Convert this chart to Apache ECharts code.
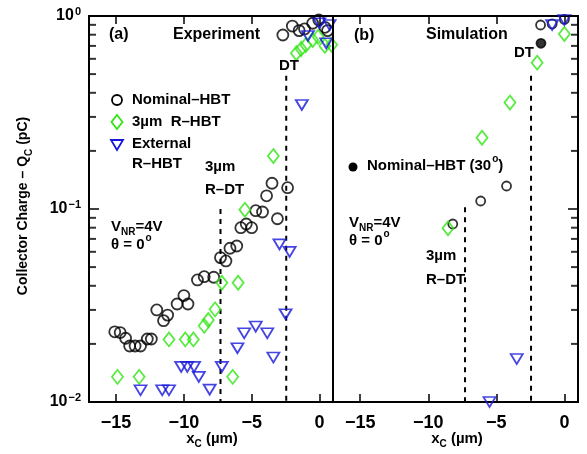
<!DOCTYPE html>
<html>
<head>
<meta charset="utf-8">
<script src="https://cdn.jsdelivr.net/npm/echarts@6/dist/echarts.min.js"></script>
</head>
<body style="margin:0">
<div id="chart" style="width:587px;height:454px"></div>
<script>
// axis ranges / ticks
const xMin = -17, xMax = 1;
const xTicks = [-15, -10, -5, 0];
const yMin = 0.01, yMax = 1;
const minorTickValues = [0.02, 0.03, 0.04, 0.05, 0.06, 0.07, 0.08, 0.09,
  0.2, 0.3, 0.4, 0.5, 0.6, 0.7, 0.8, 0.9];

// (a) Experiment
const expNominalX = [-15.1, -14.7, -14.3, -14.0, -13.6, -13.2, -12.7, -12.4, -12.0, -11.5, -11.2,
  -10.5, -10.0, -9.7, -9.0, -8.5, -7.8, -7.3, -6.9, -6.6, -6.1, -5.8, -5.4, -5.0, -4.7, -4.2,
  -3.9, -3.5, -3.1, -2.35, -2.7, -2.0, -1.5, -1.1, -0.5, -0.05, 0.4, 0.6];
const expNominalQ = [0.0231, 0.0229, 0.0214, 0.0195, 0.0195, 0.0195, 0.0212, 0.0212, 0.030, 0.0264, 0.0282,
  0.0322, 0.0356, 0.0322, 0.0429, 0.0446, 0.0443, 0.056, 0.0538, 0.0626, 0.0643, 0.080, 0.0836, 0.080, 0.098, 0.0965,
  0.117, 0.136, 0.089, 0.129, 0.797, 0.887, 0.84, 0.857, 0.917, 0.954, 0.874, 0.84];

const expRhbtX = [-14.9, -13.3, -11.1, -9.9, -9.3, -8.5, -8.2, -7.7, -7.2, -6.0, -6.4, -5.5, -3.4,
  -1.7, -1.35, -1.0, -0.5, -0.1, 0.4, 0.9];
const expRhbtQ = [0.0135, 0.0135, 0.0211, 0.0211, 0.0211, 0.0248, 0.0266, 0.0302, 0.0415, 0.0415, 0.0135, 0.099, 0.188,
  0.641, 0.675, 0.708, 0.751, 0.78, 0.70, 0.71];

const expExtX = [-13.2, -11.6, -11.1, -10.2, -9.75, -9.25, -8.9, -8.1, -7.2, -6.05, -5.55, -4.7, -3.85, -3.4,
  -2.5, -2.95, -2.2, -1.3, -0.85, 0.0, 0.5, 0.75];
const expExtQ = [0.0115, 0.0115, 0.0115, 0.0152, 0.0152, 0.0152, 0.0135, 0.0116, 0.0152, 0.019, 0.0227, 0.0246, 0.0227, 0.017,
  0.0285, 0.0656, 0.060, 0.346, 0.788, 0.917, 0.722, 0.898];

// (b) Simulation
const simNominalX = [-8.2, -6.15, -4.25, -1.75, -0.9, 0.0];
const simNominalQ = [0.0836, 0.110, 0.1316, 0.898, 0.91, 0.96];
const sim30X = [-1.72];
const sim30Q = [0.722];
const simRhbtX = [-8.55, -6.05, -4.0, -2.0, 0.0];
const simRhbtQ = [0.0794, 0.234, 0.356, 0.573, 0.807];
const simExtX = [-5.5, -3.5, -0.9, 0.0];
const simExtQ = [0.0100, 0.0167, 0.898, 0.953];

// dashed guide lines (R-DT, DT)
const guideX = [-7.3, -2.45];
const guideTopA = [0.1, 0.49];
const guideTopB = [0.102, 0.49];

const FONT = "'Liberation Sans', Arial, sans-serif";
const BLACK = '#000';
const GREEN = '#2fe612';
const BLUE = '#1616dc';
const TRI = 'path://M0,0L12,0L6,10Z';

const pairs = (xs, ys) => xs.map((x, i) => [x, ys[i]]);

const chart = echarts.init(document.getElementById('chart'));

function scatter(xs, ys, xi, yi, symbol, size, stroke, fill) {
  return {
    type: 'scatter', xAxisIndex: xi, yAxisIndex: yi, clip: false, z: 3,
    symbol: symbol, symbolSize: size,
    itemStyle: { color: fill || 'rgba(0,0,0,0)', borderColor: stroke, borderWidth: 1.8 },
    data: pairs(xs, ys)
  };
}

function guide(x, top, xi, yi) {
  return {
    type: 'line', xAxisIndex: xi, yAxisIndex: yi, showSymbol: false, silent: true, z: 1,
    lineStyle: { color: BLACK, width: 2, type: [5, 5] },
    data: [[x, top], [x, yMin]]
  };
}

// minor log ticks drawn as tiny rects sitting on the axis edge
function minorTicks(xi, yi, atX, dir) {
  return {
    type: 'scatter', xAxisIndex: xi, yAxisIndex: yi, clip: false, z: 20,
    symbol: 'rect', symbolSize: [7, 2], symbolOffset: [dir * 3.5, 0],
    itemStyle: { color: BLACK },
    data: minorTickValues.map(v => [atX, v])
  };
}

function xAxis(gridIndex, position, showLabel) {
  return {
    type: 'value', gridIndex, position, min: xMin, max: xMax,
    axisLine: { show: true, onZero: false, lineStyle: { color: BLACK, width: 2 } },
    splitLine: { show: false },
    axisTick: { show: true, inside: true, length: 8, customValues: xTicks, lineStyle: { color: BLACK, width: 1.5 } },
    axisLabel: {
      show: showLabel, customValues: xTicks, margin: 12,
      fontFamily: FONT, fontWeight: 'bold', fontSize: 18, color: BLACK,
      formatter: v => (v < 0 ? '\u2212' + Math.abs(v) : String(v))
    }
  };
}

function yAxis(gridIndex, position, showLabel, showTick) {
  return {
    type: 'log', logBase: 10, gridIndex, position, min: yMin, max: yMax, z: 20,
    axisLine: { show: true, onZero: false, lineStyle: { color: BLACK, width: 2 } },
    splitLine: { show: false },
    axisTick: { show: showTick, inside: true, length: 10, lineStyle: { color: BLACK, width: 1.5 } },
    axisLabel: {
      show: showLabel, margin: 8, color: BLACK,
      formatter: v => {
        const e = Math.round(Math.log10(v));
        return '{b|10}{s|' + (e < 0 ? '\u2212' + (-e) : e) + '}';
      },
      rich: {
        b: { fontFamily: FONT, fontWeight: 'bold', fontSize: 16, verticalAlign: 'middle', color: BLACK },
        s: { fontFamily: FONT, fontWeight: 'bold', fontSize: 11, verticalAlign: 'middle', padding: [0, 0, 9, 1], color: BLACK }
      }
    }
  };
}

const rich = {
  t: { fontFamily: FONT, fontWeight: 'bold', fontSize: 15, lineHeight: 18, verticalAlign: 'top', color: BLACK },
  tt: { fontFamily: FONT, fontWeight: 'bold', fontSize: 14, lineHeight: 18, verticalAlign: 'top', color: BLACK },
  sub: { fontFamily: FONT, fontWeight: 'bold', fontSize: 10, lineHeight: 18, verticalAlign: 'top', padding: [8, 0, 0, 0], color: BLACK },
  sup: { fontFamily: FONT, fontWeight: 'bold', fontSize: 10, lineHeight: 18, verticalAlign: 'top', padding: [-4, 0, 0, 1], color: BLACK }
};

function label(x, y, text, size, align) {
  return {
    type: 'text', x, y, z: 10,
    style: { text, fill: BLACK, fontFamily: FONT, fontWeight: 'bold', fontSize: size || 15,
      align: align || 'left', verticalAlign: 'middle', rich }
  };
}

const option = {
  animation: false,
  grid: [
    { left: 89, top: 16, width: 244, height: 386, show: true, borderColor: BLACK, borderWidth: 2 },
    { left: 333, top: 16, width: 245, height: 386, show: true, borderColor: BLACK, borderWidth: 2 }
  ],
  xAxis: [
    xAxis(0, 'bottom', true), xAxis(0, 'top', false),
    xAxis(1, 'bottom', true), xAxis(1, 'top', false)
  ],
  yAxis: [
    yAxis(0, 'left', true, true), yAxis(0, 'right', false, false),
    yAxis(1, 'left', false, false), yAxis(1, 'right', false, true)
  ],
  series: [
    guide(guideX[0], guideTopA[0], 0, 0), guide(guideX[1], guideTopA[1], 0, 0),
    guide(guideX[0], guideTopB[0], 2, 2), guide(guideX[1], guideTopB[1], 2, 2),
    minorTicks(0, 0, xMin, 1), minorTicks(2, 3, xMax, -1),
    scatter(expNominalX, expNominalQ, 0, 0, 'circle', 11, BLACK),
    scatter(expRhbtX, expRhbtQ, 0, 0, 'diamond', [11, 14], GREEN),
    scatter(expExtX, expExtQ, 0, 0, TRI, [12, 10], BLUE),
    scatter(simNominalX, simNominalQ, 2, 2, 'circle', 9, BLACK),
    scatter(simRhbtX, simRhbtQ, 2, 2, 'diamond', [11, 14], GREEN),
    scatter(simExtX, simExtQ, 2, 2, TRI, [12, 10], BLUE),
    scatter(sim30X, sim30Q, 2, 2, 'circle', 9, BLACK, BLACK)
  ],
  graphic: [
    // panel (a)
    label(109, 35, '(a)', 16),
    label(173, 35, 'Experiment', 16),
    label(279, 66, 'DT', 15),
    { type: 'circle', shape: { cx: 117, cy: 100, r: 5 }, style: { fill: 'none', stroke: BLACK, lineWidth: 1.8 }, z: 10 },
    label(132, 100, 'Nominal\u2013HBT'),
    { type: 'polygon', shape: { points: [[117, 115], [122.5, 122], [117, 129], [111.5, 122]] }, style: { fill: 'none', stroke: GREEN, lineWidth: 1.8 }, z: 10 },
    label(132, 122, '3\u00b5m  R\u2013HBT'),
    { type: 'polygon', shape: { points: [[111, 140], [123, 140], [117, 150]] }, style: { fill: 'none', stroke: BLUE, lineWidth: 1.8 }, z: 10 },
    label(132, 144, 'External'),
    label(132, 164, 'R\u2013HBT'),
    label(205, 167, '3\u00b5m'),
    label(205, 190, 'R\u2013DT'),
    label(111, 228, '{t|V}{sub|NR}{t|=4V}'),
    label(111, 246, '{t|\u03b8 = 0}{sup|o}'),
    // panel (b)
    label(354, 36, '(b)', 16),
    label(426, 35, 'Simulation', 16),
    label(514, 53, 'DT', 15),
    { type: 'circle', shape: { cx: 353, cy: 167, r: 4.5 }, style: { fill: BLACK }, z: 10 },
    label(367, 167, '{t|Nominal\u2013HBT (30}{sup|o}{t|)}', 16),
    label(349, 224, '{t|V}{sub|NR}{t|=4V}'),
    label(349, 242, '{t|\u03b8 = 0}{sup|o}'),
    label(426, 256, '3\u00b5m'),
    label(426, 280, 'R\u2013DT'),
    // axis titles
    label(212, 440, '{t|x}{sub|C}{t| (\u00b5m)}', 15, 'center'),
    label(457, 440, '{t|x}{sub|C}{t| (\u00b5m)}', 15, 'center'),
    { type: 'text', x: 25, y: 206, rotation: Math.PI / 2, z: 10,
      style: { text: '{tt|Collector Charge \u2013 Q}{sub|C}{tt| (pC)}', fill: BLACK, align: 'center', verticalAlign: 'middle', rich } }
  ]
};

chart.setOption(option);
</script>
</body>
</html>
